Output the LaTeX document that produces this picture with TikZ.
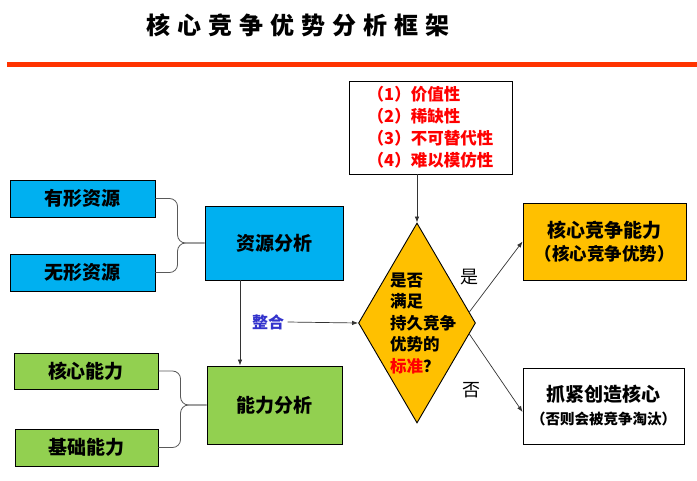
\documentclass[tikz,border=0pt]{standalone}
\usepackage{fontspec}
\setmainfont{Noto Sans CJK SC}
\usetikzlibrary{shapes.geometric,arrows.meta,calc}
\definecolor{zycyan}{RGB}{0,176,240}
\definecolor{nlgreen}{RGB}{146,208,80}
\definecolor{gold}{RGB}{255,192,0}
\definecolor{linered}{RGB}{255,51,0}
\definecolor{zhblue}{RGB}{51,51,204}
\begin{document}
\begin{tikzpicture}[x=1pt,y=-1pt,
  box/.style={draw,line width=0.9pt,inner sep=0pt,font=\fontsize{19}{23}\selectfont\bfseries},
  curly/.style={draw=black!65,line width=0.8pt,rounded corners=8pt},
  arr/.style={draw=black!80,line width=0.7pt,-{Latex[length=6pt,width=4.5pt]}}]
\useasboundingbox (0,0) rectangle (697,480);

  \node (title) at (298,25) {\fontsize{24}{24}\selectfont\bfseries\addfontfeature{LetterSpace=29}核心竞争优势分析框架};
\draw [linered,line width=5pt] (7,64.5) to (697,64.5);

\node [box,minimum width=163pt,minimum height=93pt,align=left,text=red,font=\fontsize{16.5}{22}\selectfont\bfseries] (crit) at (430.5,127.5) {（1）价值性\\（2）稀缺性\\（3）不可替代性\\（4）难以模仿性};

\node [box,fill=zycyan,minimum width=145pt,minimum height=37pt] (tangible) at (82.5,198.5) {有形资源};
\node [box,fill=zycyan,minimum width=145pt,minimum height=37pt] (intangible) at (82.5,272.5) {无形资源};
\node [box,fill=zycyan,minimum width=138pt,minimum height=74pt] (resource) at (274,243) {资源分析};

\node [box,fill=nlgreen,minimum width=144pt,minimum height=36pt] (core) at (86,371) {核心能力};
\node [box,fill=nlgreen,minimum width=143pt,minimum height=37pt] (basic) at (86.5,447.5) {基础能力};
\node [box,fill=nlgreen,minimum width=135pt,minimum height=78pt] (ability) at (274.5,405) {能力分析};

\node [text=zhblue,font=\fontsize{16}{16}\selectfont\bfseries] (integrate) at (268,322) {整合};

\node [box,shape=diamond,fill=gold,aspect=0.585,minimum width=117pt,minimum height=200pt] (judge) at (417,323) {};
\node [align=left,inner sep=0pt,font=\fontsize{16.5}{21.5}\selectfont\bfseries] (judgetext) at (423,323) {是否\\满足\\持久竞争\\优势的\\{\color{red}标准}？};
\node [font=\fontsize{18}{18}\selectfont] (yes) at (469,277) {是};
\node [font=\fontsize{18}{18}\selectfont] (no) at (471,390) {否};

\node [box,fill=gold,minimum width=163pt,minimum height=77pt,align=center] (advantage) at (604.5,241.5) {核心竞争能力\\{\fontsize{17.5}{23}\selectfont（核心竞争优势）}};
\node [box,fill=white,minimum width=161pt,minimum height=76pt,align=center] (create) at (603.5,406) {抓紧创造核心\\{\fontsize{14.5}{22}\selectfont（否则会被竞争淘汰）}};

\coordinate (rbrace) at ($(resource.west)+(-27,0)$);
\coordinate (abrace) at ($(ability.west)+(-26,0)$);
\draw [curly] (tangible.east) -| (rbrace) -- (resource.west);
\draw [curly] (intangible.east) -| (rbrace) -- (resource.west);
\draw [curly] (core.east) -| (abrace) -- (ability.west);
\draw [curly] (basic.east) -| (abrace) -- (ability.west);

\draw [arr] ([xshift=-34pt]resource.south) -- ([xshift=-34pt]resource.south |- ability.north);
\draw [arr] (integrate.east) -- (judge.west);
\draw [arr] (crit.south -| judge.north) -- (judge.north);
\draw [arr] (judge.12) -- (advantage.west);
\draw [arr] (judge.-12) -- ([yshift=-6pt]create.west);
\end{tikzpicture}
\end{document}
